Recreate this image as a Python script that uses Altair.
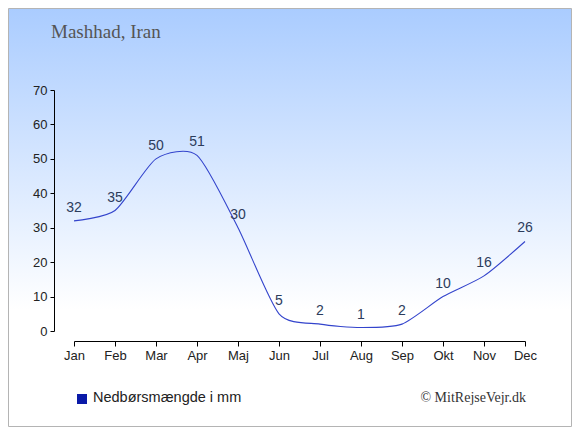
import altair as alt
import pandas as pd

months = ["Jan", "Feb", "Mar", "Apr", "Maj", "Jun", "Jul", "Aug", "Sep", "Okt", "Nov", "Dec"]
rain = [32, 35, 50, 51, 30, 5, 2, 1, 2, 10, 16, 26]
y_ticks = [0, 10, 20, 30, 40, 50, 60, 70]

W, H = 451, 241
PL, PT = 66, 82
PR = 564 - PL - W
PB = 419 - PT - H

df = pd.DataFrame({"month": months, "rain": rain})
one = pd.DataFrame({"a": [0]})

x_axis = alt.Axis(title=None, labelAngle=0, offset=10, tickSize=5, zindex=1,
                  labelOverlap=False,
                  labelFont="Liberation Sans", labelFontSize=13, labelColor="#222",
                  domainColor="#000", tickColor="#000", labelPadding=3)
y_axis = alt.Axis(title=None, values=y_ticks, offset=20, grid=False, tickSize=4, zindex=1,
                  labelOverlap=False,
                  labelFont="Liberation Sans", labelFontSize=13, labelColor="#222",
                  domainColor="#000", tickColor="#000", labelPadding=3)
x_enc = alt.X("month:O", sort=months, scale=alt.Scale(type="point", padding=0), axis=x_axis)
y_enc = alt.Y("rain:Q", scale=alt.Scale(domain=[0, 70], nice=False, zero=True), axis=y_axis)

bg = alt.Chart(one).mark_rect(
    fill=alt.Gradient(gradient="linear",
                      stops=[alt.GradientStop(color="#aaccff", offset=0),
                             alt.GradientStop(color="#ffffff", offset=0.72),
                             alt.GradientStop(color="#ffffff", offset=1)],
                      x1=0, y1=0, x2=0, y2=1),
    stroke="#b4b4b4", strokeWidth=1
).encode(x=alt.value(-PL + 0.5), x2=alt.value(W + PR - 0.5),
         y=alt.value(-PT + 0.5), y2=alt.value(H + PB - 0.5))

line = alt.Chart(df).mark_line(interpolate="cardinal", tension=0.3, color="#3344cc",
                               strokeWidth=1.1).encode(x=x_enc, y=y_enc)

labels = alt.Chart(df).mark_text(dy=-13, baseline="middle", font="Liberation Sans",
                                 fontSize=14, color="#2c3c5c").encode(
    x=x_enc, y=y_enc, text="rain:Q")

title = alt.Chart(one).mark_text(text="Mashhad, Iran", align="left", baseline="alphabetic",
                                 font="Liberation Serif", fontSize=19, color="#555").encode(
    x=alt.value(-23), y=alt.value(-52))

leg_sq = alt.Chart(one).mark_square(size=100, color="#0a1aa8", opacity=1).encode(
    x=alt.value(8), y=alt.value(309))
leg_tx = alt.Chart(one).mark_text(text="Nedbørsmængde i mm", align="left", baseline="middle",
                                  font="Liberation Sans", fontSize=14.5, color="#222").encode(
    x=alt.value(19), y=alt.value(308))
copy = alt.Chart(one).mark_text(text="© MitRejseVejr.dk", align="right", baseline="alphabetic",
                                font="Liberation Serif", fontSize=14, color="#333").encode(
    x=alt.value(452), y=alt.value(312))

chart = alt.layer(bg, line, labels, title, leg_sq, leg_tx, copy).properties(
    width=W, height=H,
    autosize=alt.AutoSizeParams(type="none"),
    padding={"left": PL, "top": PT, "right": PR, "bottom": PB},
).configure_view(stroke=None).configure(background="white")

chart.save("out.html", embed_options={"renderer": "svg", "actions": False})
